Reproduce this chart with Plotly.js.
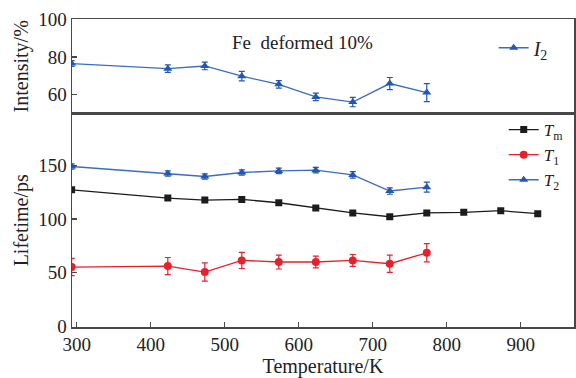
<!DOCTYPE html>
<html>
<head>
<meta charset="utf-8">
<script src="https://cdn.plot.ly/plotly-3.0.1.min.js"></script>
<style>html,body{margin:0;padding:0;background:#fff;}#chart{width:576px;height:378px;}</style>
</head>
<body>
<div id="chart"></div>
<script>
// Temperatures (K)
const tempAll = [293, 423, 473, 523, 573, 623, 673, 723, 773, 823, 873, 923];
const tempShort = [293, 423, 473, 523, 573, 623, 673, 723, 773];

// Intensity I2 (%)
const I2 = [76.5, 73.8, 75.2, 69.8, 65.5, 58.8, 56.1, 65.9, 61.1];
const I2err = [1.5, 2, 2, 2.5, 2, 2, 2.5, 3.2, 4.8];

// Lifetimes (ps)
const Tm = [127.1, 119.4, 117.6, 118.2, 115.1, 110.2, 105.6, 102.1, 105.6, 106.2, 107.7, 104.9];
const T1 = [55.3, 56.2, 50.7, 61.5, 60.0, 60.0, 61.5, 58.4, 68.6];
const T1err = [8, 8, 8.5, 7.5, 6.5, 5.5, 5.5, 8, 8.5];
const T2 = [148.8, 142.3, 139.5, 143.2, 144.7, 145.4, 141.0, 126.0, 129.6];
const T2err = [2.5, 2.5, 2.5, 2.5, 2.5, 2.5, 3, 3, 4.6];

const xTicks = [300, 400, 500, 600, 700, 800, 900];
const yTicksTop = [60, 80, 100];
const yTicksBottom = [0, 50, 100, 150];

const black = '#1c1c1c', red = '#e5222b', blue = '#2457b3', blueLine = '#3b6cc4';
const serif2 = 'Liberation Serif, Times New Roman, serif';

const traces = [
  {x: tempShort, y: I2, xaxis: 'x2', yaxis: 'y2', mode: 'lines+markers', name: '<i>I</i><sub>2</sub>',
   legend: 'legend2',
   line: {color: blueLine, width: 1.3}, marker: {symbol: 'triangle-up', size: 8, color: blue},
   error_y: {type: 'data', array: I2err, visible: true, color: blue, thickness: 1.2, width: 3}},
  {x: tempAll, y: Tm, xaxis: 'x', yaxis: 'y', mode: 'lines+markers', name: '<i>T</i><sub>m</sub>',
   line: {color: black, width: 1.3}, marker: {symbol: 'square', size: 7, color: black}},
  {x: tempShort, y: T1, xaxis: 'x', yaxis: 'y', mode: 'lines+markers', name: '<i>T</i><sub>1</sub>',
   line: {color: red, width: 1.3}, marker: {symbol: 'circle', size: 8, color: red},
   error_y: {type: 'data', array: T1err, visible: true, color: red, thickness: 1.2, width: 3}},
  {x: tempShort, y: T2, xaxis: 'x', yaxis: 'y', mode: 'lines+markers', name: '<i>T</i><sub>2</sub>',
   line: {color: blueLine, width: 1.3}, marker: {symbol: 'triangle-up', size: 8, color: blue},
   error_y: {type: 'data', array: T2err, visible: true, color: blue, thickness: 1.2, width: 3}}
];

const axisCommon = {
  showline: true, linecolor: '#484848', linewidth: 1.5, mirror: true,
  ticks: 'inside', ticklen: 5, tickcolor: '#484848', tickwidth: 1.2,
  showgrid: false, zeroline: false,
  tickfont: {family: serif2, size: 19, color: '#222'}
};

const split = 0.693;

const layout = {
  width: 576, height: 378,
  margin: {l: 72, r: 2, t: 19, b: 51},
  paper_bgcolor: '#fff', plot_bgcolor: '#fff',
  showlegend: true,
  xaxis: Object.assign({}, axisCommon, {
    anchor: 'y', domain: [0, 1], range: [293.5, 972], tickvals: xTicks,
    title: {text: 'Temperature/K', font: {family: serif2, size: 20, color: '#222'}, standoff: 0}
  }),
  xaxis2: Object.assign({}, axisCommon, {
    anchor: 'y2', domain: [0, 1], matches: 'x', range: [293.5, 972], tickvals: xTicks,
    showticklabels: false, ticks: ''
  }),
  yaxis: Object.assign({}, axisCommon, {
    anchor: 'x', domain: [0, split], range: [-0.4, 198], tickvals: yTicksBottom,
    title: {text: 'Lifetime/ps', font: {family: serif2, size: 20, color: '#222'}, standoff: 4}
  }),
  yaxis2: Object.assign({}, axisCommon, {
    anchor: 'x2', domain: [split, 1], range: [50, 100.1], tickvals: yTicksTop,
    title: {text: 'Intensity/%', font: {family: serif2, size: 20, color: '#222'}, standoff: 4}
  }),
  legend: {
    x: 0.86, y: split + 0.005, xanchor: 'left', yanchor: 'top',
    bgcolor: 'rgba(0,0,0,0)', borderwidth: 0,
    font: {family: serif2, size: 17, color: '#222'}, tracegroupgap: 0,
    itemwidth: 30
  },
  legend2: {
    x: 0.84, y: 0.97, xanchor: 'left', yanchor: 'top',
    bgcolor: 'rgba(0,0,0,0)', borderwidth: 0,
    font: {family: serif2, size: 20, color: '#222'},
    itemwidth: 30
  },
  annotations: [
    {text: 'Fe  deformed 10%', xref: 'paper', yref: 'paper', x: 0.46, y: 0.925,
     xanchor: 'center', yanchor: 'middle', showarrow: false,
     font: {family: serif2, size: 19, color: '#222'}}
  ]
};

Plotly.newPlot('chart', traces, layout, {displayModeBar: false, staticPlot: true});
</script>
</body>
</html>
